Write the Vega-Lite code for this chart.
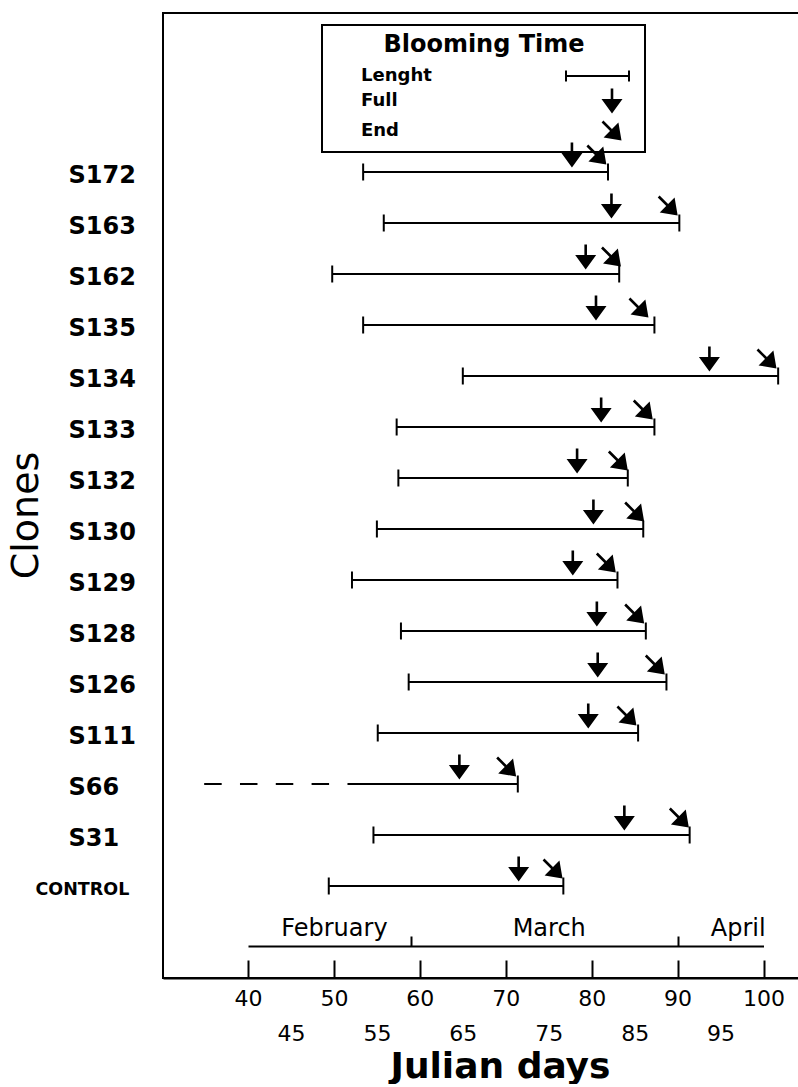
{
  "$schema": "https://vega.github.io/schema/vega-lite/v6.json",
  "width": 635,
  "height": 965,
  "padding": {"left": 7, "top": 13, "right": 0, "bottom": 0},
  "autosize": {"type": "pad"},
  "background": "white",
  "config": {
    "font": "DejaVu Sans",
    "view": {"stroke": "black", "strokeWidth": 2, "strokeDash": [635, 965, 1600]},
    "axis": {"grid": false, "domainColor": "black", "domainWidth": 2, "tickColor": "black", "labelColor": "black", "titleColor": "black"},
    "legend": {"strokeColor": "black", "strokeWidth": 2}
  },
  "datasets": {
    "clones": [
      {"clone": "S172", "begin": 53.4, "finish": 81.9, "Full": 77.7, "End": 80.6},
      {"clone": "S163", "begin": 55.8, "finish": 90.2, "Full": 82.3, "End": 88.9},
      {"clone": "S162", "begin": 49.8, "finish": 83.2, "Full": 79.3, "End": 82.3},
      {"clone": "S135", "begin": 53.4, "finish": 87.3, "Full": 80.5, "End": 85.5},
      {"clone": "S134", "begin": 65.0, "finish": 101.7, "Full": 93.7, "End": 100.4},
      {"clone": "S133", "begin": 57.3, "finish": 87.3, "Full": 81.1, "End": 86.0},
      {"clone": "S132", "begin": 57.5, "finish": 84.2, "Full": 78.3, "End": 83.1},
      {"clone": "S130", "begin": 55.0, "finish": 86.0, "Full": 80.2, "End": 85.0},
      {"clone": "S129", "begin": 52.1, "finish": 83.0, "Full": 77.8, "End": 81.7},
      {"clone": "S128", "begin": 57.8, "finish": 86.3, "Full": 80.6, "End": 85.0},
      {"clone": "S126", "begin": 58.7, "finish": 88.7, "Full": 80.7, "End": 87.4},
      {"clone": "S111", "begin": 55.1, "finish": 85.4, "Full": 79.6, "End": 84.1},
      {"clone": "S66", "dash_begin": 34.9, "begin": 51.6, "finish": 71.4, "Full": 64.6, "End": 70.1},
      {"clone": "S31", "begin": 54.6, "finish": 91.4, "Full": 83.8, "End": 90.2},
      {"clone": "CONTROL", "begin": 49.4, "finish": 76.7, "Full": 71.5, "End": 75.5}
    ],
    "months": [
      {"month": "February", "last_day": 59},
      {"month": "March", "last_day": 90}
    ]
  },
  "layer": [
    {
      "data": {"name": "clones"},
      "encoding": {
        "y": {
          "field": "clone",
          "type": "nominal",
          "sort": ["S172", "S163", "S162", "S135", "S134", "S133", "S132", "S130", "S129", "S128", "S126", "S111", "S66", "S31", "CONTROL"],
          "scale": {"type": "point", "range": [159, 873], "padding": 0},
          "axis": {
            "title": "Clones",
            "titleFont": "DejaVu Sans",
            "titleFontSize": 38,
            "titleFontWeight": "normal",
            "titleAngle": -90,
            "titleX": -137,
            "titleY": 502,
            "titleAlign": "center",
            "titleBaseline": "middle",
            "ticks": false,
            "domain": false,
            "labelAlign": "left",
            "labelBaseline": "middle",
            "labelFont": "DejaVu Sans",
            "labelFontWeight": "bold",
            "labelFontSize": {"condition": {"test": "datum.value === 'CONTROL'", "value": 17.5}, "value": 24},
            "labelPadding": {"condition": {"test": "datum.value === 'CONTROL'", "value": 128}, "value": 95},
            "labelOffset": 3,
            "labelLimit": 200
          }
        }
      },
      "layer": [
        {
          "mark": {"type": "rule", "strokeWidth": 2, "color": "black"},
          "encoding": {
            "x": {
              "field": "begin",
              "type": "quantitative",
              "scale": {"domain": [30.107, 104.01], "nice": false, "zero": false},
              "axis": {
                "orient": "bottom",
                "values": [40, 45, 50, 55, 60, 65, 70, 75, 80, 85, 90, 95, 100],
                "labelExpr": "datum.value % 10 === 0 ? datum.label : ['', datum.label]",
                "tickOpacity": {"condition": {"test": "datum.value % 10 === 0", "value": 1}, "value": 0},
                "tickSize": -18,
                "tickWidth": 2,
                "labelPadding": 28,
                "labelFont": "DejaVu Sans",
                "labelFontSize": 22,
                "labelLineHeight": 35,
                "labelBaseline": "top",
                "labelFlush": false,
                "labelOverlap": false,
                "title": "Julian days",
                "titleFont": "DejaVu Sans",
                "titleFontSize": 36,
                "titleFontWeight": "bold",
                "titleX": 337,
                "titleY": 99,
                "titleAlign": "center",
                "titleBaseline": "alphabetic"
              }
            },
            "x2": {"field": "finish"}
          }
        },
        {
          "transform": [{"filter": "isValid(datum.dash_begin)"}],
          "mark": {"type": "rule", "strokeWidth": 2, "color": "black", "strokeDash": [17.5, 18.3]},
          "encoding": {
            "x": {"field": "dash_begin", "type": "quantitative"},
            "x2": {"field": "begin"}
          }
        },
        {
          "mark": {"type": "tick", "size": 17, "thickness": 2, "color": "black", "opacity": 1},
          "encoding": {"x": {"field": "finish", "type": "quantitative"}}
        },
        {
          "transform": [{"filter": "!isValid(datum.dash_begin)"}],
          "mark": {"type": "tick", "size": 17, "thickness": 2, "color": "black", "opacity": 1},
          "encoding": {"x": {"field": "begin", "type": "quantitative"}}
        },
        {
          "transform": [{"fold": ["Full", "End"], "as": ["marker", "day"]}],
          "mark": {"type": "point", "filled": true, "color": "black", "size": 400, "opacity": 1, "yOffset": -17},
          "encoding": {
            "x": {"field": "day", "type": "quantitative"},
            "shape": {
              "field": "marker",
              "type": "nominal",
              "scale": {
                "domain": ["Lenght", "Full", "End"],
                "range": [
                  "M-4.6,-0.1H1.7V0.1H-4.6ZM-4.7,-0.55H-4.5V0.55H-4.7ZM1.6,-0.55H1.8V0.55H1.6ZM2.2,0",
                  "M-0.13,-1.25H0.13V-0.1H-0.13ZM-1.05,-0.2L1.05,-0.2L0,1.25Z",
                  "M-0.858,-1.042L-0.008,-0.192L-0.192,-0.008L-1.042,-0.858ZM0.642,-0.842L0.95,0.95L-0.842,0.642Z"
                ]
              },
              "legend": {
                "title": "Blooming Time",
                "orient": "none",
                "legendX": 159,
                "legendY": 12,
                "direction": "vertical",
                "padding": 8,
                "strokeColor": "black",
                "titleAnchor": "middle",
                "titleFont": "DejaVu Sans",
                "titleFontSize": 24,
                "titleFontWeight": "bold",
                "titleColor": "black",
                "titlePadding": 8,
                "titleLimit": 400,
                "labelFont": "DejaVu Sans",
                "labelFontSize": 18,
                "labelFontWeight": "bold",
                "labelColor": "black",
                "labelOffset": -262,
                "labelLimit": 300,
                "symbolOffset": 271,
                "symbolSize": 400,
                "symbolFillColor": "black",
                "symbolOpacity": 1,
                "rowPadding": 0
              }
            }
          }
        }
      ]
    },
    {
      "data": {"name": "months"},
      "mark": {"type": "rule", "opacity": 0},
      "encoding": {
        "x": {
          "field": "last_day",
          "type": "quantitative",
          "scale": {"domain": [40, 100], "range": [85, 600.5], "nice": false, "zero": false},
          "axis": {
            "orient": "top",
            "offset": -933,
            "values": [50, 59, 75, 90, 97],
            "labelExpr": "datum.value == 50 ? 'February' : datum.value == 75 ? 'March' : datum.value == 97 ? 'April' : ''",
            "tickOpacity": {"condition": {"test": "datum.value == 59 || datum.value == 90", "value": 1}, "value": 0},
            "tickSize": 10,
            "tickWidth": 2,
            "domainWidth": 2,
            "labelFont": "DejaVu Sans",
            "labelFontSize": 24,
            "labelPadding": -4,
            "labelFlush": false,
            "labelOverlap": false,
            "title": null
          }
        }
      }
    }
  ],
  "resolve": {"scale": {"x": "independent"}, "axis": {"x": "independent"}}
}
